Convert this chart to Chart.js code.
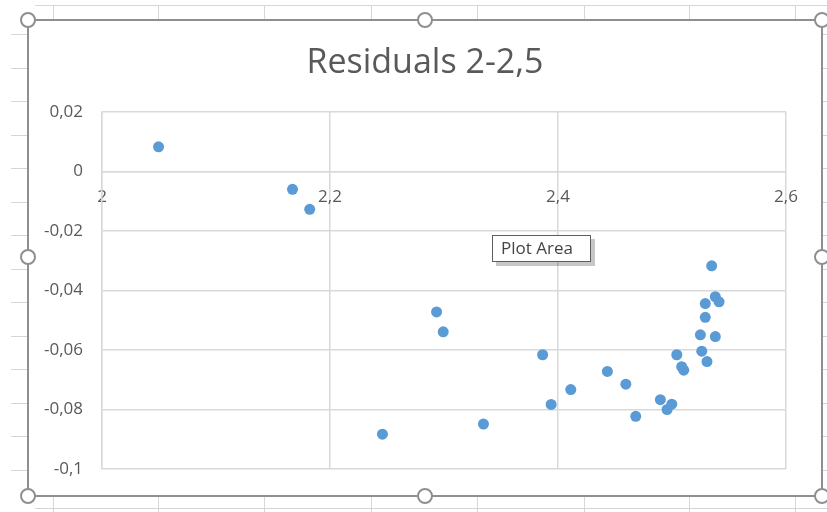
<!DOCTYPE html>
<html lang="es">
<head>
  <meta charset="UTF-8" />
  <title>Residuals 2-2,5</title>
  <script src="https://cdn.jsdelivr.net/npm/chart.js"></script>
  <style>
    body { margin: 0; background: #fff; }
    canvas { display: block; }
  </style>
</head>
<body>
  <canvas id="grafico" width="827" height="512"></canvas>
  <script>
    const titulo = "Residuals 2-2,5";
    const valoresX = [2.0496, 2.1671, 2.1822, 2.2460, 2.2935, 2.2993, 2.3346, 2.3865, 2.3940, 2.4112,
      2.4433, 2.4595, 2.4682, 2.4898, 2.4957, 2.4998, 2.5042, 2.5085, 2.5103, 2.5249,
      2.5261, 2.5292, 2.5292, 2.5307, 2.5348, 2.5380, 2.5413, 2.5380];
    const residuos = [0.0083, -0.0060, -0.0127, -0.0883, -0.0472, -0.0539, -0.0849, -0.0616, -0.0783, -0.0733,
      -0.0672, -0.0715, -0.0823, -0.0767, -0.0800, -0.0782, -0.0616, -0.0656, -0.0668, -0.0549,
      -0.0604, -0.0444, -0.0490, -0.0639, -0.0317, -0.0421, -0.0438, -0.0555];
    const ejeX = { min: 2, max: 2.6, paso: 0.2 };
    const ejeY = { min: -0.1, max: 0.02, paso: 0.02 };

    const puntos = valoresX.map((x, i) => ({ x: x, y: residuos[i] }));

    // numero con coma decimal, como en Excel
    const coma = v => String(Math.round(v * 100) / 100).replace(".", ",");

    const gris = "#595959";
    const fuente = "'Open Sans', sans-serif";

    // hoja de calculo, marco del grafico, titulo, tiradores y la etiqueta "Plot Area"
    const decoracion = {
      id: "decoracion",
      beforeDraw(chart) {
        const c = chart.ctx;
        c.save();
        c.fillStyle = "#fff";
        c.fillRect(0, 0, 827, 512);
        c.strokeStyle = "#d6d6d6";
        c.lineWidth = 1;
        c.beginPath();
        c.moveTo(35, 5.5); c.lineTo(827, 5.5);
        c.moveTo(35, 508.5); c.lineTo(827, 508.5);
        [53, 158, 264, 371, 477, 584, 689, 795].forEach(x => {
          c.moveTo(x + 0.5, 5); c.lineTo(x + 0.5, 20);
          c.moveTo(x + 0.5, 496); c.lineTo(x + 0.5, 512);
        });
        for (let y = 34; y < 495; y += 33.5) {
          const yy = Math.round(y) + 0.5;
          c.moveTo(11, yy); c.lineTo(28, yy);
          c.moveTo(823, yy); c.lineTo(827, yy);
        }
        c.stroke();
        c.strokeStyle = "#8f8f8f";
        c.lineWidth = 2;
        c.strokeRect(28, 20, 794, 476);
        // titulo centrado en el marco
        c.fillStyle = gris;
        c.font = "34px " + fuente;
        c.textAlign = "center";
        c.textBaseline = "middle";
        c.fillText(titulo, 425, 63);
        c.restore();
      },
      afterDraw(chart) {
        const c = chart.ctx;
        c.save();
        // etiqueta
        c.fillStyle = "rgba(0,0,0,0.22)";
        c.fillRect(496, 239, 99, 27);
        c.fillStyle = "#fff";
        c.fillRect(492, 235, 99, 27);
        c.strokeStyle = "#5e5e5e";
        c.lineWidth = 1;
        c.strokeRect(492.5, 235.5, 98, 26);
        c.fillStyle = "#444";
        c.font = "17px " + fuente;
        c.textBaseline = "middle";
        c.fillText("Plot Area", 501, 249);
        // tiradores
        c.strokeStyle = "#8f8f8f";
        c.lineWidth = 2;
        c.fillStyle = "#fff";
        [[28, 20], [425, 20], [822, 20], [28, 257], [822, 257], [28, 496], [425, 496], [822, 496]].forEach(p => {
          c.beginPath();
          c.arc(p[0], p[1], 7, 0, Math.PI * 2);
          c.fill();
          c.stroke();
        });
        c.restore();
      }
    };

    new Chart(document.getElementById("grafico"), {
      type: "scatter",
      data: {
        datasets: [{
          data: puntos,
          backgroundColor: "#5b9bd5",
          borderColor: "#5b9bd5",
          borderWidth: 0,
          pointRadius: 5.5
        }]
      },
      options: {
        responsive: false,
        animation: false,
        layout: { padding: { left: 28, right: 41, top: 112, bottom: 43 } },
        plugins: {
          legend: { display: false },
          tooltip: { enabled: false },
          title: { display: false }
        },
        scales: {
          x: {
            type: "linear",
            position: { y: 0 },
            min: ejeX.min,
            max: ejeX.max,
            ticks: {
              stepSize: ejeX.paso,
              color: gris,
              font: { family: fuente, size: 17 },
              padding: 15,
              maxRotation: 0,
              callback: v => coma(v)
            },
            grid: { color: "#d9d9d9", lineWidth: 1.5, drawTicks: false },
            border: { color: "#d9d9d9", width: 1.5 }
          },
          y: {
            min: ejeY.min,
            max: ejeY.max,
            afterFit(escala) { escala.width = 74; },
            ticks: {
              stepSize: ejeY.paso,
              color: gris,
              font: { family: fuente, size: 17 },
              padding: 19,
              callback: v => coma(v)
            },
            grid: { color: "#d9d9d9", lineWidth: 1.5, drawTicks: false },
            border: { color: "#d9d9d9", width: 1.5 }
          }
        }
      },
      plugins: [decoracion]
    });
  </script>
</body>
</html>
